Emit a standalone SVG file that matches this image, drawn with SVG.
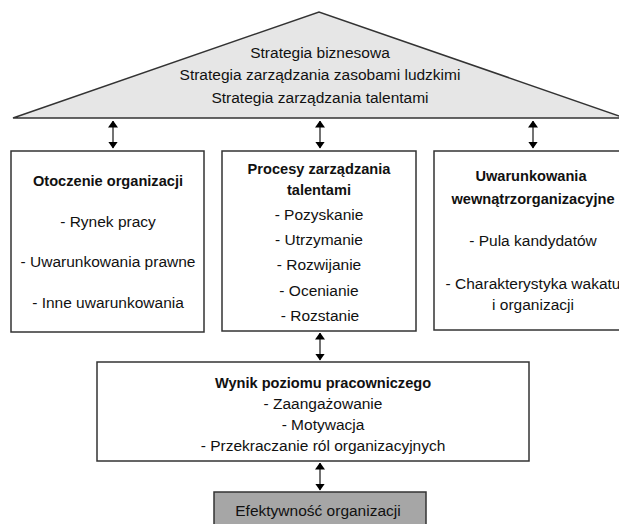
<svg xmlns="http://www.w3.org/2000/svg" width="619" height="524" viewBox="0 0 619 524">
<style>
text{font-family:"Liberation Sans",Arial,sans-serif;font-size:15.5px;fill:#111;text-anchor:middle}
.b{font-weight:bold;font-size:14.6px}
.box{fill:#fff;stroke:#333;stroke-width:1.5}
.con{stroke:#444;stroke-width:1.5;fill:none;marker-start:url(#ah);marker-end:url(#ah)}
</style>
<defs>
<marker id="ah" viewBox="0 0 7 10" refX="6.5" refY="5" markerWidth="7" markerHeight="10" markerUnits="userSpaceOnUse" orient="auto-start-reverse">
<path d="M0,0 L7,5 L0,10 Z" fill="#000"/>
</marker>
</defs>
<g id="strategy">
<polygon points="13,118 319,12 625,118" fill="#e6e6e6" stroke="#333" stroke-width="1.5"/>
<text x="320" y="58">Strategia biznesowa</text>
<text x="320" y="80">Strategia zarządzania zasobami ludzkimi</text>
<text x="320" y="103">Strategia zarządzania talentami</text>
</g>
<g id="connectors">
<line class="con" x1="113" y1="121" x2="113" y2="148"/>
<line class="con" x1="320" y1="121" x2="320" y2="148"/>
<line class="con" x1="533" y1="121" x2="533" y2="148"/>
<line class="con" x1="320" y1="333" x2="320" y2="360"/>
<line class="con" x1="320" y1="463" x2="320" y2="490"/>
</g>
<g id="otoczenie">
<rect class="box" x="11" y="151" width="193" height="181"/>
<text class="b" x="108" y="186">Otoczenie organizacji</text>
<text x="108" y="227">- Rynek pracy</text>
<text x="108" y="267">- Uwarunkowania prawne</text>
<text x="108" y="308">- Inne uwarunkowania</text>
</g>
<g id="procesy">
<rect class="box" x="222" y="151" width="194" height="180"/>
<text class="b" x="319" y="174">Procesy zarządzania</text>
<text class="b" x="319" y="195">talentami</text>
<text x="319" y="220">- Pozyskanie</text>
<text x="319" y="245">- Utrzymanie</text>
<text x="319" y="270">- Rozwijanie</text>
<text x="319" y="296">- Ocenianie</text>
<text x="320" y="321">- Rozstanie</text>
</g>
<g id="uwarunkowania">
<rect class="box" x="434" y="151" width="198" height="179"/>
<text class="b" x="531" y="181">Uwarunkowania</text>
<text class="b" x="533" y="204">wewnątrzorganizacyjne</text>
<text x="533" y="246">- Pula kandydatów</text>
<text x="533" y="289">- Charakterystyka wakatu</text>
<text x="533" y="310">i organizacji</text>
</g>
<g id="wynik">
<rect class="box" x="97" y="362" width="432" height="99"/>
<text class="b" x="323" y="388">Wynik poziomu pracowniczego</text>
<text x="323" y="409">- Zaangażowanie</text>
<text x="323" y="430">- Motywacja</text>
<text x="323" y="451">- Przekraczanie ról organizacyjnych</text>
</g>
<g id="efektywnosc">
<rect x="214" y="492" width="212" height="40" fill="#a6a6a6" stroke="#333" stroke-width="1.5"/>
<text x="318" y="516">Efektywność organizacji</text>
</g>
</svg>
